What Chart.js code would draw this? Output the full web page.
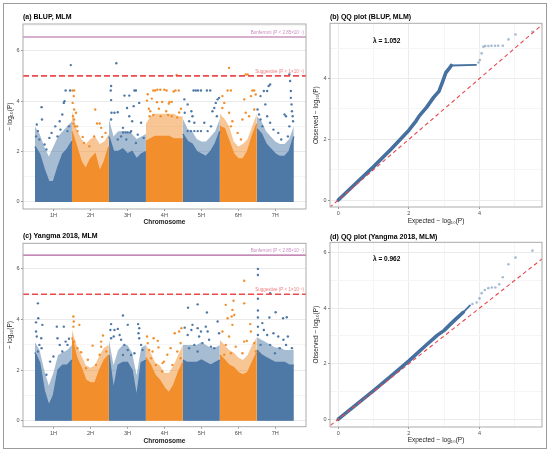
<!DOCTYPE html>
<html>
<head>
<meta charset="utf-8">
<title>GWAS Manhattan and QQ plots</title>
<script src="https://cdn.jsdelivr.net/npm/chart.js@4.4.1/dist/chart.umd.min.js"></script>
<style>
  body { margin: 0; background: #fff; }
  #fig { position: relative; width: 550px; height: 453px; }
  #frame { position: absolute; left: 3px; top: 3px; width: 544px; height: 446px; border: 1px solid #9b9b9b; box-sizing: border-box; }
  canvas { position: absolute; }
</style>
</head>
<body>
<div id="fig">
  <div id="frame"></div>
  <canvas id="panelA" width="306" height="226" style="left:4px;top:4px"></canvas>
  <canvas id="panelB" width="236" height="226" style="left:310px;top:4px"></canvas>
  <canvas id="panelC" width="306" height="218" style="left:4px;top:230px"></canvas>
  <canvas id="panelD" width="236" height="218" style="left:310px;top:230px"></canvas>
</div>
<script>
// chromosomes and thresholds
var chromLabels = ['1H', '2H', '3H', '4H', '5H', '6H', '7H'];
var chromColors = ['#4e79a7', '#f28e2b'];
var chromSpreadColors = ['rgba(78,121,167,0.5)', 'rgba(242,142,43,0.5)'];
var bonferroniP = 2.85e-7;
var suggestiveP = 1e-5;

// height of the solid SNP band, 9 readings per chromosome (left to right)
var blupCoreHeights = [
  [2.2, 1.9, 1.3, 0.8, 0.8, 1.4, 1.9, 2.1, 2.4],
  [2.8, 2.2, 1.6, 1.3, 1.7, 1.9, 1.2, 1.6, 2.2],
  [2.6, 2.0, 2.0, 2.1, 1.9, 2.0, 1.7, 1.9, 2.0],
  [2.4, 2.5, 2.6, 2.6, 2.6, 2.6, 2.5, 2.5, 2.5],
  [2.7, 2.4, 2.3, 2.0, 1.9, 1.8, 2.0, 2.3, 2.8],
  [3.0, 2.9, 2.4, 1.9, 1.7, 1.7, 2.0, 2.6, 3.1],
  [2.9, 2.7, 2.3, 2.1, 1.9, 1.8, 1.8, 2.0, 2.6]
];
// top of the looser, speckled part of the band
var blupSpreadHeights = [
  [3.0, 2.7, 2.2, 1.8, 2.2, 2.6, 2.8, 3.0, 3.2],
  [3.6, 2.9, 2.5, 2.3, 2.5, 2.6, 2.3, 2.4, 2.7],
  [3.3, 2.6, 2.8, 2.8, 2.8, 2.7, 2.5, 2.6, 2.7],
  [3.1, 3.4, 3.5, 3.5, 3.5, 3.5, 3.5, 3.4, 3.4],
  [3.3, 2.9, 2.8, 2.5, 2.4, 2.4, 2.6, 2.8, 3.3],
  [3.5, 3.3, 3.0, 2.4, 2.2, 2.3, 2.5, 3.0, 3.5],
  [3.4, 3.2, 2.8, 2.6, 2.4, 2.3, 2.3, 2.5, 3.0]
];
var yangmaCoreHeights = [
  [2.7, 2.3, 1.2, 0.6, 1.0, 2.0, 2.2, 2.2, 2.4],
  [3.3, 2.5, 2.1, 1.6, 1.5, 1.5, 2.0, 2.4, 2.6],
  [2.6, 1.2, 2.2, 2.3, 2.3, 2.0, 0.9, 2.3, 2.4],
  [2.5, 2.2, 1.8, 1.6, 1.3, 1.1, 1.4, 1.9, 2.3],
  [2.4, 2.3, 2.3, 2.3, 2.4, 2.3, 2.2, 2.3, 2.4],
  [2.6, 2.4, 2.2, 2.1, 1.9, 1.8, 1.9, 2.3, 2.7],
  [2.8, 2.6, 2.5, 2.4, 2.3, 2.3, 2.3, 2.2, 2.2]
];
var yangmaSpreadHeights = [
  [3.1, 2.8, 2.0, 1.4, 1.9, 2.6, 2.7, 2.8, 3.0],
  [3.6, 3.0, 2.6, 2.2, 2.1, 2.2, 2.6, 2.9, 3.0],
  [3.2, 2.2, 2.8, 3.0, 3.0, 2.7, 1.8, 2.9, 3.0],
  [3.0, 2.7, 2.3, 2.2, 1.9, 1.9, 2.2, 2.6, 3.0],
  [3.0, 3.0, 3.0, 3.0, 3.1, 3.0, 2.9, 2.9, 3.0],
  [3.2, 3.0, 2.8, 2.7, 2.5, 2.4, 2.6, 3.0, 3.3],
  [3.3, 3.2, 3.1, 3.0, 2.9, 2.9, 2.8, 2.8, 2.8]
];

// SNPs above the band: [chromosome, offset within chromosome 0-1, -log10(P)]
var blupPeaks = [
  [1,0.03,2.6],[1,0.05,3.07],[1,0.08,2.81],[1,0.12,2.48],[1,0.18,3.76],[1,0.19,3.27],[1,0.26,2.28],[1,0.31,2.08],
  [1,0.39,2.54],[1,0.45,2.74],[1,0.55,3.0],[1,0.61,2.6],[1,0.67,3.2],[1,0.69,2.87],[1,0.74,3.47],[1,0.78,3.93],
  [1,0.8,4.0],[1,0.83,4.42],[1,0.88,2.81],[1,0.92,3.0],[1,0.95,4.42],[1,0.97,5.43],
  [2,0.02,3.93],[2,0.02,4.42],[2,0.03,3.4],[2,0.04,3.1],[2,0.05,4.2],[2,0.06,4.42],[2,0.06,3.67],[2,0.06,3.27],
  [2,0.08,3.0],[2,0.11,3.54],[2,0.14,3.0],[2,0.15,2.81],[2,0.29,2.58],[2,0.33,2.34],[2,0.47,2.21],[2,0.6,2.6],
  [2,0.63,3.67],[2,0.68,3.11],[2,0.75,3.11],[2,0.79,2.94],[2,0.82,2.58],[2,0.91,2.74],
  [3,0.06,4.6],[3,0.05,4.42],[3,0.06,4.04],[3,0.07,3.54],[3,0.06,3.27],[3,0.2,5.5],[3,0.15,3.54],[3,0.24,3.56],
  [3,0.42,4.22],[3,0.55,4.22],[3,0.69,4.42],[3,0.73,4.42],[3,0.67,3.8],[3,0.49,3.73],[3,0.55,3.4],[3,0.63,3.2],
  [3,0.82,3.93],[3,0.87,3.14],[3,0.38,2.94],[3,0.6,2.81],[3,0.33,2.6],[3,0.78,2.67],[3,0.94,2.54],[3,0.24,2.48],
  [3,0.47,2.48],[3,0.73,2.34],[3,0.38,2.76],[3,0.45,2.76],[3,0.51,2.76],[3,0.58,2.76],
  [4,0.03,4.02],[4,0.05,4.27],[4,0.08,3.7],[4,0.1,3.4],[4,0.12,3.6],[4,0.16,4.1],[4,0.2,4.42],[4,0.2,3.45],
  [4,0.25,4.42],[4,0.3,3.96],[4,0.31,4.45],[4,0.35,3.7],[4,0.39,4.45],[4,0.4,3.4],[4,0.44,3.97],[4,0.5,4.45],
  [4,0.55,3.6],[4,0.56,4.42],[4,0.6,3.45],[4,0.62,3.9],[4,0.64,3.97],[4,0.7,3.97],[4,0.7,3.4],[4,0.75,4.38],
  [4,0.8,4.42],[4,0.83,5.04],[4,0.85,3.35],[4,0.89,4.42],[4,0.9,3.55],[4,0.95,3.7],
  [5,0.04,4.07],[5,0.05,3.54],[5,0.13,3.87],[5,0.13,2.81],[5,0.17,3.2],[5,0.22,2.81],[5,0.23,3.6],[5,0.26,3.4],
  [5,0.29,4.42],[5,0.31,3.14],[5,0.31,2.81],[5,0.35,4.42],[5,0.4,2.81],[5,0.41,4.42],[5,0.49,4.42],[5,0.49,2.81],
  [5,0.58,3.14],[5,0.65,4.42],[5,0.67,2.81],[5,0.74,4.42],[5,0.76,3.0],[5,0.8,3.6],[5,0.85,3.73],[5,0.89,3.93],
  [5,0.92,3.4],[5,0.94,4.07],[5,0.98,4.13],
  [6,0.07,4.2],[6,0.07,3.73],[6,0.12,3.93],[6,0.21,4.42],[6,0.25,5.32],[6,0.25,3.54],[6,0.3,4.42],[6,0.3,3.0],
  [6,0.34,3.2],[6,0.48,2.74],[6,0.57,2.48],[6,0.61,3.27],[6,0.66,4.07],[6,0.7,3.54],[6,0.7,5.06],[6,0.75,5.06],
  [6,0.79,3.4],[6,0.84,4.2],[6,0.88,4.42],[6,0.93,4.42],[6,0.93,3.67],[6,0.97,4.26],
  [7,0.02,3.67],[7,0.06,3.47],[7,0.1,4.2],[7,0.1,3.27],[7,0.15,3.0],[7,0.19,4.4],[7,0.23,3.87],[7,0.28,4.4],
  [7,0.28,3.4],[7,0.32,4.6],[7,0.36,4.66],[7,0.36,3.14],[7,0.45,2.87],[7,0.58,2.74],[7,0.66,2.48],[7,0.75,3.47],
  [7,0.79,3.4],[7,0.84,2.6],[7,0.88,5.06],[7,0.88,3.0],[7,0.9,4.8],[7,0.92,4.4],[7,0.92,4.13],[7,0.94,3.87],
  [7,0.95,3.6],[7,0.97,3.4],[7,0.98,3.2]
];
var yangmaPeaks = [
  [1,0.03,3.89],[1,0.03,3.53],[1,0.05,3.33],[1,0.08,4.64],[1,0.08,2.74],[1,0.09,4.05],[1,0.12,3.0],[1,0.17,3.26],
  [1,0.18,2.87],[1,0.2,3.79],[1,0.31,1.82],[1,0.41,2.34],[1,0.5,2.54],[1,0.59,3.72],[1,0.61,3.26],[1,0.67,3.0],
  [1,0.74,2.74],[1,0.78,3.72],[1,0.83,3.13],[1,0.88,3.0],[1,0.92,3.24],
  [2,0.04,4.12],[2,0.05,3.92],[2,0.04,3.72],[2,0.06,3.13],[2,0.15,2.87],[2,0.2,3.79],[2,0.25,2.71],[2,0.38,2.08],
  [2,0.43,2.41],[2,0.56,2.97],[2,0.65,2.21],[2,0.75,2.61],[2,0.79,3.13],[2,0.79,2.93],[2,0.84,3.37],[2,0.93,2.74],
  [3,0.04,3.59],[3,0.06,3.82],[3,0.06,3.26],[3,0.13,3.33],[3,0.15,3.59],[3,0.24,3.63],[3,0.29,3.39],[3,0.33,3.2],
  [3,0.38,4.16],[3,0.38,2.6],[3,0.42,3.0],[3,0.51,3.79],[3,0.51,2.8],[3,0.6,2.6],[3,0.69,2.67],[3,0.79,3.82],
  [3,0.8,3.46],[3,0.82,3.66],[3,0.82,3.26],[3,0.87,3.0],[3,0.91,2.8],
  [4,0.03,3.33],[4,0.05,3.07],[4,0.09,2.8],[4,0.14,2.47],[4,0.18,2.74],[4,0.21,3.26],[4,0.27,2.21],[4,0.32,3.16],
  [4,0.34,2.9],[4,0.44,1.95],[4,0.45,2.28],[4,0.49,2.34],[4,0.58,2.61],[4,0.67,2.87],[4,0.72,2.21],[4,0.78,3.46],
  [4,0.85,2.74],[4,0.9,3.53],[4,0.94,3.07],[4,0.94,2.47],[4,0.96,3.66],
  [5,0.05,3.68],[5,0.13,3.39],[5,0.14,4.47],[5,0.17,2.87],[5,0.23,3.59],[5,0.26,3.79],[5,0.31,3.0],[5,0.4,4.6],
  [5,0.4,3.66],[5,0.4,2.74],[5,0.44,3.33],[5,0.49,3.53],[5,0.53,3.07],[5,0.62,3.72],[5,0.65,4.28],[5,0.67,3.53],
  [5,0.71,3.2],[5,0.76,2.93],[5,0.85,2.87],[5,0.94,3.92],[5,0.98,3.46],
  [6,0.07,3.53],[6,0.12,2.61],[6,0.16,4.58],[6,0.16,3.0],[6,0.21,4.05],[6,0.25,3.33],[6,0.3,2.67],[6,0.32,4.12],
  [6,0.34,4.38],[6,0.34,3.79],[6,0.37,4.74],[6,0.39,4.18],[6,0.43,2.93],[6,0.61,2.67],[6,0.66,5.53],[6,0.66,4.64],
  [6,0.66,3.13],[6,0.73,3.16],[6,0.82,3.82],[6,0.84,3.53],[6,0.93,3.07],[6,0.97,2.74],
  [7,0.03,6.0],[7,0.03,5.76],[7,0.03,4.82],[7,0.03,4.36],[7,0.03,4.08],[7,0.03,3.72],[7,0.03,3.39],[7,0.1,3.0],
  [7,0.15,3.86],[7,0.19,3.59],[7,0.28,3.39],[7,0.34,4.08],[7,0.36,5.04],[7,0.36,3.0],[7,0.45,3.46],[7,0.49,2.67],
  [7,0.51,4.29],[7,0.58,3.33],[7,0.62,2.87],[7,0.71,4.05],[7,0.72,3.2],[7,0.79,3.0],[7,0.81,4.09],[7,0.84,3.33],
  [7,0.95,2.87]
];

// QQ plots: [expected, observed] -log10(P)
var blupQQLine = [[0,0],[0.5,0.55],[1,1.1],[1.5,1.68],[2,2.3],[2.2,2.6],[2.3,2.78],[2.5,3.05],[2.7,3.38],
  [2.85,3.58],[2.95,3.88],[3.05,4.2],[3.12,4.3],[3.2,4.43],[3.9,4.45]];
var blupQQTail = [[3.97,4.53],[4.01,4.61],[4.06,4.83],[4.11,5.05],[4.16,5.07],[4.25,5.07],[4.34,5.08],[4.44,5.08],
  [4.53,5.08],[4.66,5.08],[4.82,5.29],[5.02,5.45],[5.5,5.54]];
var yangmaQQLine = [[0,0],[0.5,0.52],[1,1.03],[1.5,1.56],[2,2.1],[2.5,2.68],[2.8,3.02],[3,3.2],[3.2,3.45],
  [3.35,3.63],[3.54,3.85],[3.73,4.1]];
var yangmaQQTail = [[3.8,4.15],[3.92,4.2],[4.0,4.35],[4.06,4.54],[4.15,4.65],[4.25,4.72],[4.35,4.74],[4.45,4.74],
  [4.56,4.86],[4.66,5.11],[4.82,5.58],[5.02,5.82],[5.5,6.07]];
var blupLambda = '1.052';
var yangmaLambda = '0.962';

var FONT = '"Liberation Sans", Arial, sans-serif';

function tickList(lo, hi) {
  var t = [];
  for (var v = Math.ceil(lo); v <= hi; v++) t.push({value: v});
  return t;
}
function isMajor(c) { return c.tick && c.tick.value % 2 === 0; }

// grey frame round each plot area
var panelBox = {
  id: 'panelBox',
  afterDraw: function (chart) {
    var a = chart.chartArea, ctx = chart.ctx;
    ctx.save();
    ctx.strokeStyle = '#ababab';
    ctx.lineWidth = 1;
    ctx.strokeRect(a.left, a.top, a.right - a.left, a.bottom - a.top);
    ctx.restore();
  }
};

// significance lines with their labels
var thresholdPlugin = {
  id: 'thresholds',
  afterDatasetsDraw: function (chart, args, opts) {
    if (!opts.lines) return;
    var ctx = chart.ctx, a = chart.chartArea, y = chart.scales.y;
    opts.lines.forEach(function (l) {
      var py = y.getPixelForValue(l.value);
      ctx.save();
      ctx.beginPath();
      ctx.setLineDash(l.dash || []);
      ctx.strokeStyle = l.color;
      ctx.lineWidth = l.width;
      ctx.moveTo(a.left, py);
      ctx.lineTo(a.right, py);
      ctx.stroke();
      ctx.setLineDash([]);
      ctx.fillStyle = l.labelColor;
      ctx.font = '4.5px ' + FONT;
      ctx.textAlign = 'right';
      ctx.textBaseline = 'bottom';
      ctx.fillText(l.label, a.right - 2, py - 2);
      ctx.restore();
    });
  }
};

var lambdaPlugin = {
  id: 'lambdaLabel',
  afterDatasetsDraw: function (chart, args, opts) {
    if (!opts.text) return;
    var ctx = chart.ctx;
    ctx.save();
    ctx.font = 'bold 6.5px ' + FONT;
    ctx.fillStyle = '#000';
    ctx.textAlign = 'center';
    ctx.textBaseline = 'middle';
    ctx.fillText(opts.text, chart.scales.x.getPixelForValue(opts.x), chart.scales.y.getPixelForValue(opts.y));
    ctx.restore();
  }
};

function titleOpts(text, lay) {
  return {
    display: true, text: text, align: 'start', fullSize: false, color: '#000',
    font: {family: FONT, size: 7, weight: 'bold'},
    padding: {top: lay.tt, bottom: lay.tb}
  };
}

// one filled band per chromosome
function bandSets(heights, colors, width) {
  return heights.map(function (hs, i) {
    var color = colors[i % 2];
    return {
      data: hs.map(function (h, k) { return {x: i + 0.5 + k / (hs.length - 1), y: h}; }),
      fill: 'origin',
      backgroundColor: color,
      borderColor: color,
      borderWidth: width,
      pointRadius: 0,
      tension: 0
    };
  });
}

function manhattan(id, title, coreHeights, spreadHeights, peaks, lay) {
  var datasets = [];
  [1, 0].forEach(function (odd) {
    datasets.push({
      data: peaks.filter(function (p) { return p[0] % 2 === odd; })
                 .map(function (p) { return {x: p[0] - 0.5 + p[1], y: p[2]}; }),
      showLine: false,
      pointRadius: 1.2,
      pointBorderWidth: 0,
      pointBackgroundColor: odd ? chromColors[0] : chromColors[1]
    });
  });
  datasets = datasets.concat(bandSets(coreHeights, chromColors, 1.5),
                             bandSets(spreadHeights, chromSpreadColors, 0));

  return new Chart(document.getElementById(id), {
    type: 'line',
    data: {datasets: datasets},
    plugins: [panelBox, thresholdPlugin],
    options: {
      responsive: false,
      animation: false,
      layout: {padding: {top: 0, right: 3, bottom: 0, left: 0}},
      plugins: {
        legend: {display: false},
        tooltip: {enabled: false},
        title: titleOpts(title, lay),
        thresholds: {
          lines: [
            {value: -Math.log10(bonferroniP), color: '#b0609f', width: 1.2,
             label: 'Bonferroni (P < 2.85×10⁻⁷)', labelColor: '#c98cc1'},
            {value: -Math.log10(suggestiveP), color: '#ea4b4f', width: 1.6, dash: [6, 3],
             label: 'Suggestive (P < 1×10⁻⁵)', labelColor: '#ee7b7e'}
          ]
        }
      },
      scales: {
        x: {
          type: 'linear', min: 0.177, max: 7.83,
          afterBuildTicks: function (s) { s.ticks = chromLabels.map(function (l, i) { return {value: i + 1}; }); },
          afterFit: function (s) { s.height = lay.xh; },
          ticks: {
            callback: function (v) { return chromLabels[v - 1]; },
            font: {family: FONT, size: 5.5}, color: '#4d4d4d', padding: 1.5, autoSkip: false, maxRotation: 0
          },
          grid: {drawOnChartArea: false, tickLength: 2, tickColor: '#555', tickWidth: 0.6},
          border: {display: false},
          title: {display: true, text: 'Chromosome', color: '#222',
                  font: {family: FONT, size: 6.5, weight: 'bold'}, padding: {top: 0, bottom: lay.xtb}}
        },
        y: {
          min: lay.ymin, max: lay.ymax,
          afterBuildTicks: function (s) { s.ticks = tickList(s.min, s.max); },
          afterFit: function (s) { s.width = 19; },
          ticks: {
            callback: function (v) { return v % 2 === 0 ? v : ''; },
            font: {family: FONT, size: 5.5}, color: '#4d4d4d', padding: 1.5
          },
          grid: {
            color: function (c) { return isMajor(c) ? '#ebebeb' : '#f5f5f5'; },
            tickColor: function (c) { return isMajor(c) ? '#555' : 'rgba(0,0,0,0)'; },
            tickLength: 2, tickWidth: 0.6
          },
          border: {display: false},
          title: {display: true, text: '− log₁₀(P)', color: '#222',
                  font: {family: FONT, size: 6.5}, padding: {top: 2.1, bottom: 0}}
        }
      }
    }
  });
}

function qqPlot(id, title, lineData, tailData, lambda, lay) {
  var toXY = function (p) { return {x: p[0], y: p[1]}; };
  var datasets = [
    {data: [{x: -1, y: -1}, {x: 7, y: 7}], borderColor: '#e8474c', borderWidth: 1.1,
     borderDash: [4, 3], pointRadius: 0},
    {data: tailData.map(toXY), showLine: false, pointRadius: 1.3, pointBorderWidth: 0,
     pointBackgroundColor: 'rgba(78,121,167,0.5)'},
    {data: lineData.map(toXY), borderColor: '#46709f', borderWidth: 3.6, pointRadius: 0,
     borderCapStyle: 'round', borderJoinStyle: 'round',
     segment: {borderWidth: function (c) { return c.p0.parsed.x >= lay.thinFrom ? 1.8 : undefined; }}}
  ];
  var axisCommon = function (min, max, text, fit) {
    return {
      type: 'linear', min: min, max: max,
      afterBuildTicks: function (s) { s.ticks = tickList(s.min, s.max); },
      afterFit: fit,
      ticks: {
        callback: function (v) { return v % 2 === 0 ? v : ''; },
        font: {family: FONT, size: 5.5}, color: '#4d4d4d', padding: 1.5, autoSkip: false, maxRotation: 0
      },
      grid: {
        color: function (c) { return isMajor(c) ? '#ebebeb' : '#f5f5f5'; },
        tickColor: function (c) { return isMajor(c) ? '#555' : 'rgba(0,0,0,0)'; },
        tickLength: 2, tickWidth: 0.6
      },
      border: {display: false},
      title: {display: true, text: text, color: '#222', font: {family: FONT, size: 6.5}}
    };
  };
  var x = axisCommon(-0.235, 5.77, 'Expected − log₁₀(P)', function (s) { s.height = lay.xh; });
  x.title.padding = {top: 0, bottom: lay.xtb};
  var y = axisCommon(lay.ymin, lay.ymax, 'Observed − log₁₀(P)', function (s) { s.width = 20; });
  y.title.padding = {top: 2.8, bottom: 0};

  return new Chart(document.getElementById(id), {
    type: 'line',
    data: {datasets: datasets},
    plugins: [panelBox, lambdaPlugin],
    options: {
      responsive: false,
      animation: false,
      layout: {padding: {top: 0, right: 4, bottom: 0, left: 0}},
      plugins: {
        legend: {display: false},
        tooltip: {enabled: false},
        title: titleOpts(title, lay),
        lambdaLabel: {text: 'λ = ' + lambda, x: 1.37, y: lay.lambdaY}
      },
      scales: {x: x, y: y}
    }
  });
}

manhattan('panelA', '(a) BLUP, MLM', blupCoreHeights, blupSpreadHeights, blupPeaks,
  {ymin: -0.28, ymax: 7.06, xh: 21, xtb: 3.4, tt: 8.5, tb: 3.1});
manhattan('panelC', '(c) Yangma 2018, MLM', yangmaCoreHeights, yangmaSpreadHeights, yangmaPeaks,
  {ymin: -0.23, ymax: 7.01, xh: 21.3, xtb: 2.4, tt: 1.8, tb: 3.1});
qqPlot('panelB', '(b) QQ plot (BLUP, MLM)', blupQQLine, blupQQTail, blupLambda,
  {ymin: -0.23, ymax: 5.82, xh: 23, xtb: 4.4, tt: 8.5, tb: 2.4, thinFrom: 3.2, lambdaY: 5.22});
qqPlot('panelD', '(d) QQ plot (Yangma 2018, MLM)', yangmaQQLine, yangmaQQTail, yangmaLambda,
  {ymin: -0.28, ymax: 6.37, xh: 21, xtb: 4.1, tt: 2.5, tb: 1.4, thinFrom: 3.54, lambdaY: 5.76});
</script>
</body>
</html>
